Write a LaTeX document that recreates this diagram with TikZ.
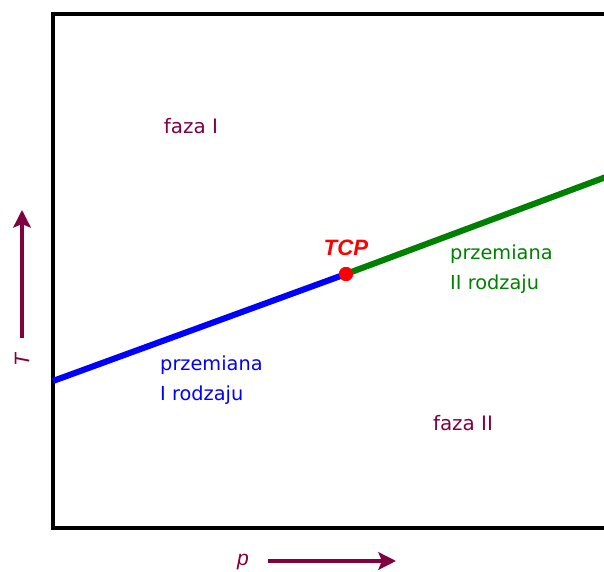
\documentclass[tikz,border=0pt]{standalone}
\usepackage{fontspec}
\setmainfont{DejaVu Sans}
\newfontfamily\axisfont{Liberation Sans}
\usetikzlibrary{arrows.meta, positioning}
\definecolor{cPlum}{RGB}{128,0,64}
\definecolor{cBlue}{RGB}{0,0,255}
\definecolor{cGreen}{RGB}{0,128,0}
\definecolor{cRed}{RGB}{255,0,0}
\tikzset{
	frame/.style    ={draw=black, line width=3.4pt},
	phaseline/.style={line width=5.2pt},
	phaselabel/.style={text=cPlum, font=\fontsize{17}{20}\selectfont, inner sep=0pt},
	translabel/.style={align=left, anchor=west, inner sep=0pt, font=\fontsize{16.5}{25.5}\selectfont},
	axisarrow/.style={-{Stealth[length=15pt, width=15pt, inset=3pt]}, draw=cPlum, line width=2.8pt},
	axislabel/.style={text=cPlum, font=\axisfont\itshape\fontsize{18}{20}\selectfont, inner sep=0pt},
}
\begin{document}
\begin{tikzpicture}[x=0.03cm, y=0.03cm]
	\useasboundingbox (0,0) rectangle (604,572);
	% diagram frame (right side cut off)
	\draw[frame] (606,558) -- (53,558) -- (53,44) -- (606,44);
	% transition lines
	\coordinate (lo) at (53,191);
	\coordinate (hi) at (606,395);
	\node[circle, fill=cRed, inner sep=0pt, minimum size=12pt] (tcp) at (346,298) {};
	\draw[phaseline, cBlue] (lo) -- (tcp.center);
	\draw[phaseline, cGreen] (tcp.center) -- (hi);
	\node[circle, fill=cRed, inner sep=0pt, minimum size=12pt] at (tcp) {};
	\node[text=cRed, font=\axisfont\bfseries\itshape\fontsize{19}{20}\selectfont, inner sep=0pt] (tcplabel) at (346,324) {TCP};
	% phases and transitions
	\node[phaselabel] (faza1) at (191,446) {faza I};
	\node[phaselabel] (faza2) at (463,149) {faza II};
	\node[translabel, text=cGreen] (second) at (450,303) {przemiana\\II rodzaju};
	\node[translabel, text=cBlue] (first) at (160,192) {przemiana\\I rodzaju};
	% axes
	\coordinate (tfrom) at (22,234);
	\coordinate (tto) at (22,362);
	\draw[axisarrow] (tfrom) -- (tto);
	\node[axislabel, rotate=90] (tlabel) at (22,212) {T};
	\coordinate (pfrom) at (268,11);
	\coordinate (pto) at (396,11);
	\draw[axisarrow] (pfrom) -- (pto);
	\node[axislabel] (plabel) at (243,10) {p};
\end{tikzpicture}
\end{document}
